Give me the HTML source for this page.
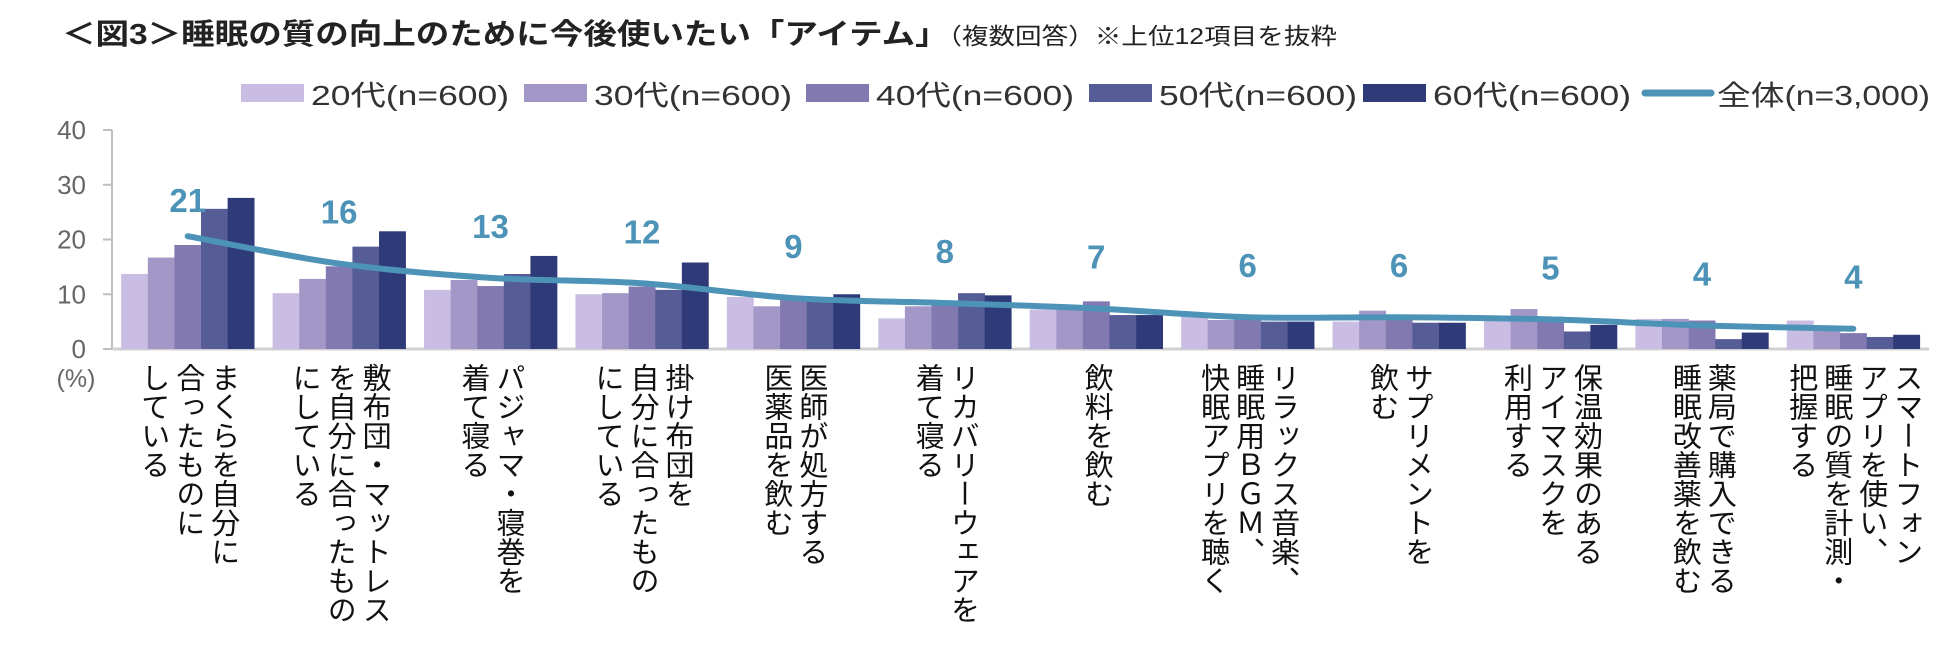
<!DOCTYPE html>
<html><head><meta charset="utf-8"><style>
html,body{margin:0;padding:0;background:#fff;}
svg{display:block;}
text{font-family:"Liberation Sans","Noto Sans CJK JP",sans-serif;}
</style></head><body>
<svg id="chart" width="1950" height="647" viewBox="0 0 1950 647" xmlns="http://www.w3.org/2000/svg">
<text x="62" y="44" font-size="29" font-weight="bold" fill="#222" textLength="1275" lengthAdjust="spacingAndGlyphs">＜図3＞睡眠の質の向上のために今後使いたい「アイテム」<tspan font-size="23" font-weight="normal">（複数回答）※上位12項目を抜粋</tspan></text>
<g id="legend"></g>
<g id="axes"></g>
<g id="bars"></g>
<g id="line"></g>
<g id="xlabels"></g>
</svg>
<script>
const categories = [
 ["まくらを自分に","合ったものに","している"],
 ["敷布団・マットレス","を自分に合ったもの","にしている"],
 ["パジャマ・寝巻を","着て寝る"],
 ["掛け布団を","自分に合ったもの","にしている"],
 ["医師が処方する","医薬品を飲む"],
 ["リカバリーウェアを","着て寝る"],
 ["飲料を飲む"],
 ["リラックス音楽、","睡眠用ＢＧＭ、","快眠アプリを聴く"],
 ["サプリメントを","飲む"],
 ["保温効果のある","アイマスクを","利用する"],
 ["薬局で購入できる","睡眠改善薬を飲む"],
 ["スマートフォン","アプリを使い、","睡眠の質を計測・","把握する"]
];
const seriesNames = ["20代(n=600)","30代(n=600)","40代(n=600)","50代(n=600)","60代(n=600)"];
const s20 = [13.7,10.2,10.8,10.0,9.5,5.6,7.2,6.0,5.0,5.3,5.5,5.2];
const s30 = [16.7,12.8,12.6,10.2,7.8,7.8,7.2,5.3,7.0,7.3,5.5,4.1];
const s40 = [19.0,15.1,11.5,11.4,9.0,8.4,8.7,5.8,5.6,5.9,5.2,2.9];
const s50 = [25.6,18.7,13.7,10.8,8.7,10.2,6.2,5.0,4.8,3.2,1.8,2.2];
const s60 = [27.6,21.5,17.0,15.8,10.0,9.8,6.2,5.0,4.8,4.4,3.0,2.6];
const overall = [20.6,15.6,13.0,12.0,9.3,8.4,7.4,5.8,5.8,5.4,4.3,3.7];
const overallLabels = ["21","16","13","12","9","8","7","6","6","5","4","4"];
const yTicks = [0,10,20,30,40];
const lineName = "全体(n=3,000)";
const colors = ["#c9bde3","#a397c7","#8279b1","#565c96","#2f3a79"];
const lineColor = "#4d93b8";

const NS="http://www.w3.org/2000/svg";
function mk(tag,attrs,parent){const e=document.createElementNS(NS,tag);for(const k in attrs)e.setAttribute(k,attrs[k]);parent.appendChild(e);return e;}
const X0=112, X1=1929, Y0=349, Y1=130, YMAX=40;
const band=(X1-X0)/categories.length;
const y=v=>Y0-(v/YMAX)*(Y0-Y1);
const cx=i=>X0+band*(i+0.5);
const barW=26.6;

const axes=document.getElementById('axes');
const al=mk('line',{x1:X0,y1:Y1,x2:X0,y2:Y0,stroke:'#bfbfbf','stroke-width':2},axes);


const bl=mk('line',{x1:X0,y1:Y0,x2:X1,y2:Y0,stroke:'#d0d0d0','stroke-width':3},axes);


yTicks.forEach(t=>{
  const tk=mk('line',{x1:X0-9,y1:y(t),x2:X0,y2:y(t),stroke:'#bfbfbf','stroke-width':2},axes);
  
  
  const tl=mk('text',{x:86,y:y(t)+9,'font-size':26,fill:'#666','text-anchor':'end'},axes);
  tl.textContent=t;
  
  
});
const pct=mk('text',{x:76,y:387,'font-size':25,fill:'#666','text-anchor':'middle'},axes);
pct.textContent="(%)";



const bars=document.getElementById('bars');
const all=[s20,s30,s40,s50,s60];
all.forEach((s,si)=>{
  s.forEach((v,i)=>{
    const x=cx(i)-barW*2.5+si*barW;
    const r=mk('rect',{x:x,y:y(v),width:barW+0.3,height:Y0-y(v),fill:colors[si]},bars);
    
    
  });
});

const lg=document.getElementById('line');
const pts=overall.map((v,i)=>[cx(i),y(v)]);
let d='M'+pts[0][0]+','+pts[0][1];
for(let i=0;i<pts.length-1;i++){
  const p0=pts[Math.max(0,i-1)],p1=pts[i],p2=pts[i+1],p3=pts[Math.min(pts.length-1,i+2)];
  const t=1/6;
  d+=' C'+(p1[0]+(p2[0]-p0[0])*t)+','+(p1[1]+(p2[1]-p0[1])*t)+' '+(p2[0]-(p3[0]-p1[0])*t)+','+(p2[1]-(p3[1]-p1[1])*t)+' '+p2[0]+','+p2[1];
}
const path=mk('path',{d:d,fill:'none',stroke:lineColor,'stroke-width':6,'stroke-linecap':'round'},lg);


overall.forEach((v,i)=>{
  const off = i===0?24:40;
  const t=mk('text',{x:cx(i),y:y(v)-off,'font-size':33,'font-weight':'bold',fill:lineColor,'text-anchor':'middle'},lg);
  t.textContent=overallLabels[i];
  
  
});

const xl=document.getElementById('xlabels');
const colGap=35;
categories.forEach((lines,i)=>{
  const n=lines.length;
  lines.forEach((ln,j)=>{
    const colX=cx(i)+((n-1)/2-j)*colGap;
    const t=mk('text',{x:colX,y:363,'font-size':29,fill:'#111','writing-mode':'tb','glyph-orientation-vertical':'0'},xl);
    t.setAttribute('style','writing-mode:vertical-rl;text-orientation:upright;');
    t.textContent=ln;
    
    
  });
});

const leg=document.getElementById('legend');
const legX=[241,524,806,1089,1363];
seriesNames.forEach((nm,i)=>{
  const r=mk('rect',{x:legX[i],y:84,width:63,height:18,fill:colors[i]},leg);
  
  
  const t=mk('text',{x:legX[i]+70,y:105,'font-size':28,fill:'#333',textLength:198,lengthAdjust:'spacingAndGlyphs'},leg);
  t.textContent=nm;
  
  
});
const ll=mk('line',{x1:1645,y1:93,x2:1711,y2:93,stroke:lineColor,'stroke-width':7,'stroke-linecap':'round'},leg);


const lt=mk('text',{x:1717,y:105,'font-size':28,fill:'#333',textLength:213,lengthAdjust:'spacingAndGlyphs'},leg);
lt.textContent=lineName;


</script>
</body></html>
